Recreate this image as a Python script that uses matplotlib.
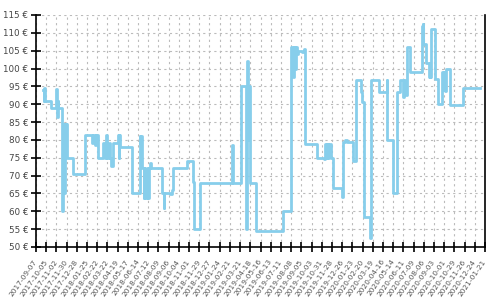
import matplotlib
matplotlib.use("Agg")
import matplotlib.pyplot as plt
import matplotlib.dates as mdates
import pandas as pd
import numpy as np

start_date = "2017-09-07"
end_date = "2021-01-21"

# day offsets from start_date and prices (EUR)
day_offsets = [20, 22, 23, 25, 26, 41, 55, 57, 59, 60, 70, 72, 74, 76, 77, 79, 81, 83, 84,
               102, 135, 154, 157, 161, 165, 169, 185, 188, 192, 195, 199, 203, 206, 212,
               224, 227, 229, 231, 264, 284, 286, 289, 291, 292, 295, 297, 300, 304, 307,
               311, 313, 316, 345, 350, 351, 368, 372, 375, 414, 432, 434, 450, 539, 541,
               562, 576, 578, 580, 582, 584, 586, 604, 677, 700, 706, 708, 710, 713, 716,
               720, 729, 734, 737, 738, 770, 789, 793, 796, 799, 801, 804, 810, 814, 840,
               842, 848, 853, 869, 878, 891, 895, 900, 917, 919, 940, 963, 964, 979, 990,
               999, 1008, 1011, 1014, 1017, 1019, 1027, 1059, 1061, 1062, 1063, 1070, 1077,
               1080, 1082, 1084, 1094, 1104, 1113, 1116, 1119, 1122, 1125, 1136, 1173, 1219]
prices = [94, 91, 94.5, 91, 91, 89, 94.3, 86.5, 91, 89, 85, 60, 84.5, 80, 65, 84.5, 80, 84.5, 75,
          70.5, 81.5, 79, 81.5, 78.5, 81.5, 75, 79, 75, 81.5, 75, 79, 75, 72.7, 79,
          81.5, 75, 81.5, 78, 65, 81, 79, 81, 79, 72, 63.6, 72, 63.8, 72, 63.6,
          72, 73.5, 72, 65.2, 61, 65, 64.7, 66, 72, 74, 68.3, 55, 68, 78.6, 68,
          95, 55, 95, 102, 80, 95, 68, 54.5, 60, 106, 97.7, 106, 100, 106, 104,
          105, 104.5, 105.5, 101, 78.8, 75, 74.7, 78.8, 75, 78.8, 75, 78.8, 75, 66.6, 64,
          79.5, 80, 79.3, 74.2, 96.8, 93.5, 90.7, 58.5, 52.5, 96.8, 93.5, 96.8, 80, 65, 93.5,
          96.8, 92, 96.8, 92.5, 96.8, 106, 99.1, 112, 107, 112.5, 106.8, 101.6, 97.7,
          101.6, 97.7, 111, 97, 90, 99, 94, 99, 93.7, 100, 89.8, 94.6, 94.6]

y_ticks = list(range(50, 116, 5))
tick_step_days = 28

t0 = pd.Timestamp(start_date)
dates = t0 + pd.to_timedelta(day_offsets, unit="D")
tick_dates = pd.date_range(start_date, end_date, freq=f"{tick_step_days}D")

fig = plt.figure(figsize=(5, 3), dpi=100)
ax = fig.add_axes([0.072, 0.177, 0.898, 0.773])

ax.plot(dates, prices, drawstyle="steps-post", color="#87CEEB", lw=2)

ax.set_xlim(pd.Timestamp(start_date), pd.Timestamp(end_date))
ax.set_ylim(50, 115)
ax.set_yticks(y_ticks)
ax.set_yticklabels([f"{v} €" for v in y_ticks], fontsize=6.3, color="#444444")
ax.set_xticks(tick_dates)
ax.set_xticklabels([d.strftime("%Y-%m-%d") for d in tick_dates], rotation=55,
                   ha="right", va="center", rotation_mode="anchor", fontsize=5.3,
                   color="#555555")

ax.grid(True, color="#bbbbbb", linestyle=(0, (2, 3)), linewidth=0.8)
ax.set_axisbelow(True)
ax.spines["top"].set_visible(False)
for s in ["left", "bottom", "right"]:
    ax.spines[s].set_color("black")
    ax.spines[s].set_linewidth(1.2)
ax.tick_params(axis="both", direction="inout", length=7, width=1.2, color="black", pad=2)
ax.tick_params(axis="x", pad=6)

fig.savefig("out.png", dpi=100)
